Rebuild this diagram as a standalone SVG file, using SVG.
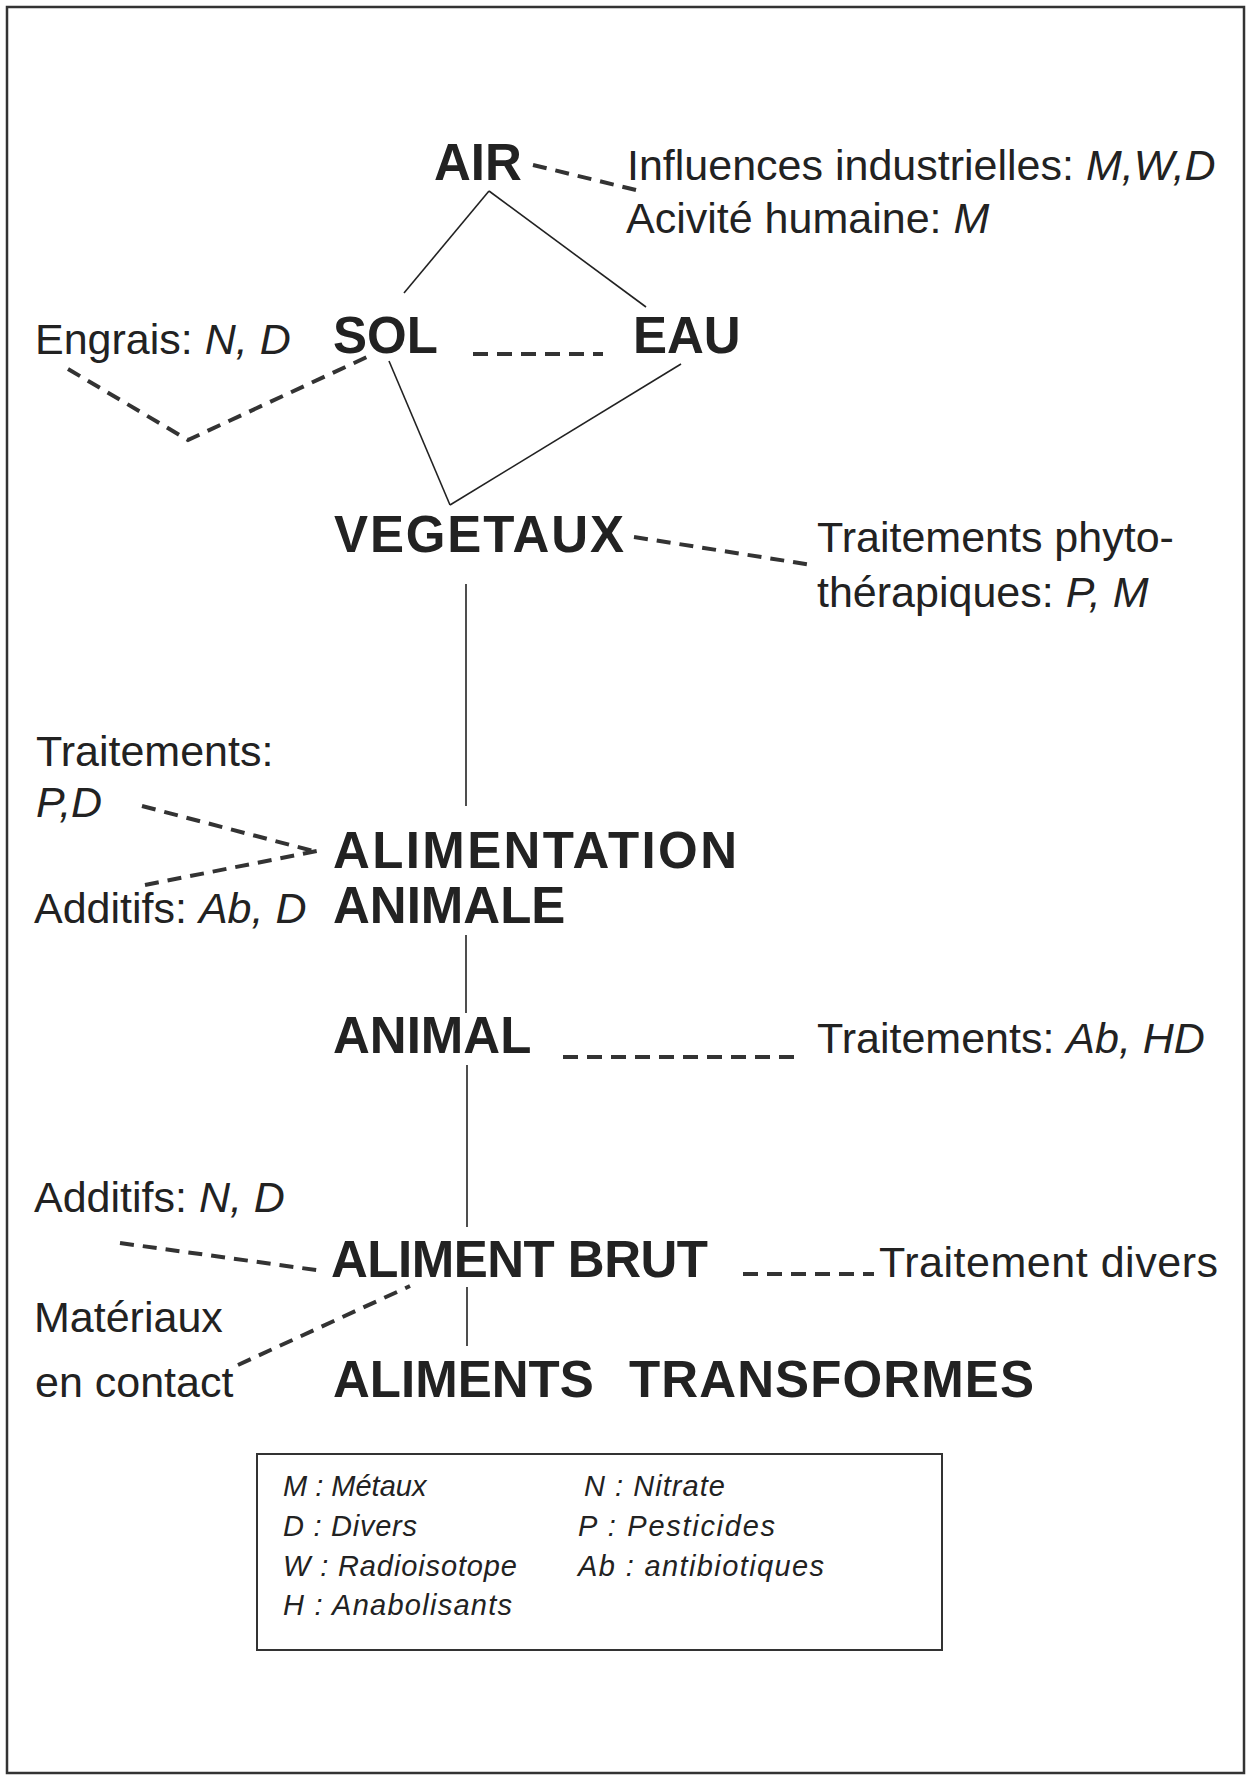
<svg xmlns="http://www.w3.org/2000/svg" width="1246" height="1775" viewBox="0 0 1246 1775">
<style>
  text { font-family: "Liberation Sans", Arial, Helvetica, sans-serif; fill: #222; }
  .n { font-size: 51px; font-weight: bold; }
  .t { font-size: 43px; }
  .i { font-style: italic; }
  .lg { font-size: 29px; font-style: italic; }
  .solid { stroke: #222; stroke-width: 1.6; fill: none; }
  .dash { stroke: #333; stroke-width: 4; fill: none; stroke-dasharray: 14 9; }
</style>
<rect x="7" y="7" width="1237" height="1766" fill="#fff" stroke="#333" stroke-width="2.5"/>

<g id="connectors">
  <line class="solid" x1="489" y1="191" x2="404" y2="293"/>
  <line class="solid" x1="489" y1="191" x2="646" y2="307"/>
  <line class="solid" x1="389" y1="361" x2="450" y2="505"/>
  <line class="solid" x1="681" y1="364" x2="450" y2="505"/>
  <line class="solid" x1="466" y1="584" x2="466" y2="806"/>
  <line class="solid" x1="466" y1="935" x2="466" y2="1013"/>
  <line class="solid" x1="467" y1="1065" x2="467" y2="1227"/>
  <line class="solid" x1="467" y1="1287" x2="467" y2="1346"/>

  <line class="dash" x1="533" y1="165" x2="640" y2="191"/>
  <line class="dash" x1="473" y1="354" x2="603" y2="354" style="stroke-dasharray:15 9"/>
  <polyline class="dash" points="68,369 188,440 367,357"/>
  <line class="dash" x1="634" y1="537" x2="812" y2="565"/>
  <line class="dash" x1="142" y1="806" x2="317" y2="852"/>
  <line class="dash" x1="145" y1="885" x2="317" y2="851"/>
  <line class="dash" x1="563" y1="1057" x2="795" y2="1057" style="stroke-dasharray:15 9"/>
  <line class="dash" x1="120" y1="1243" x2="323" y2="1271"/>
  <line class="dash" x1="743" y1="1274" x2="874" y2="1274" style="stroke-dasharray:15 9"/>
  <line class="dash" x1="238" y1="1365" x2="410" y2="1286"/>
</g>

<g id="air"><text class="n" x="434" y="180">AIR</text></g>
<g id="air-label">
  <text class="t" x="627" y="180">Influences industrielles: <tspan class="i">M,W,D</tspan></text>
  <text class="t" x="626" y="233">Acivité humaine: <tspan class="i">M</tspan></text>
</g>
<g id="sol"><text class="n" x="333" y="353">SOL</text></g>
<g id="eau"><text class="n" x="633" y="353">EAU</text></g>
<g id="engrais"><text class="t" x="35" y="354">Engrais: <tspan class="i">N, D</tspan></text></g>
<g id="vegetaux"><text class="n" x="334" y="552" textLength="290" lengthAdjust="spacing">VEGETAUX</text></g>
<g id="phyto">
  <text class="t" x="817" y="552">Traitements phyto-</text>
  <text class="t" x="817" y="607">thérapiques: <tspan class="i">P, M</tspan></text>
</g>
<g id="traitements-pd">
  <text class="t" x="36" y="766">Traitements:</text>
  <text class="t i" x="36" y="817">P,D</text>
</g>
<g id="alimentation">
  <text class="n" x="333" y="868" textLength="404" lengthAdjust="spacing">ALIMENTATION</text>
  <text class="n" x="333" y="923">ANIMALE</text>
</g>
<g id="additifs-ab"><text class="t" x="34" y="923">Additifs: <tspan class="i">Ab, D</tspan></text></g>
<g id="animal"><text class="n" x="333" y="1053">ANIMAL</text></g>
<g id="traitements-ab"><text class="t" x="817" y="1053">Traitements: <tspan class="i">Ab, HD</tspan></text></g>
<g id="additifs-nd"><text class="t" x="34" y="1212">Additifs: <tspan class="i">N, D</tspan></text></g>
<g id="aliment-brut"><text class="n" x="331" y="1277" textLength="377" lengthAdjust="spacing">ALIMENT BRUT</text></g>
<g id="traitement-divers"><text class="t" x="879" y="1277" textLength="339" lengthAdjust="spacing">Traitement divers</text></g>
<g id="materiaux">
  <text class="t" x="34" y="1332">Matériaux</text>
  <text class="t" x="35" y="1397">en contact</text>
</g>
<g id="aliments-transformes">
  <text class="n" x="333" y="1397">ALIMENTS</text>
  <text class="n" x="629" y="1397" textLength="405" lengthAdjust="spacing">TRANSFORMES</text>
</g>

<g id="legend">
  <rect x="257" y="1454" width="685" height="196" fill="none" stroke="#333" stroke-width="2"/>
  <text class="lg" x="283" y="1496">M : Métaux</text>
  <text class="lg" x="283" y="1536" textLength="134" lengthAdjust="spacing">D : Divers</text>
  <text class="lg" x="283" y="1576" textLength="234" lengthAdjust="spacing">W : Radioisotope</text>
  <text class="lg" x="283" y="1615" textLength="229" lengthAdjust="spacing">H : Anabolisants</text>
  <text class="lg" x="584" y="1496" textLength="141" lengthAdjust="spacing">N : Nitrate</text>
  <text class="lg" x="578" y="1536" textLength="197" lengthAdjust="spacing">P : Pesticides</text>
  <text class="lg" x="578" y="1576" textLength="246" lengthAdjust="spacing">Ab : antibiotiques</text>
</g>
</svg>
